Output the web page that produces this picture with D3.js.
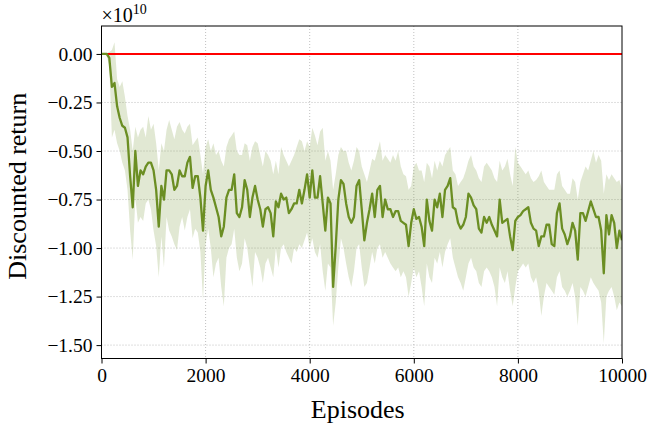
<!DOCTYPE html>
<html>
<head>
<meta charset="utf-8">
<script src="https://cdn.jsdelivr.net/npm/d3@7"></script>
<style>
  html, body { margin: 0; padding: 0; background: #fff; }
  svg { display: block; }
  text { font-family: "Liberation Serif", "DejaVu Serif", serif; fill: #000; }
</style>
</head>
<body>
<svg id="chart" width="650" height="426"></svg>
<script>
// ---- data (values in units of 1e10) ----
const STEP = 50;
const meanReturn = [
  0,0,0,-0.02,-0.17,-0.15,-0.27,-0.33,-0.37,-0.38,
  -0.43,-0.63,-0.79,-0.50,-0.68,-0.60,-0.62,-0.58,-0.56,-0.56,
  -0.60,-0.70,-0.89,-0.68,-0.75,-0.60,-0.60,-0.62,-0.70,-0.68,
  -0.60,-0.63,-0.63,-0.56,-0.53,
  -0.69,-0.63,-0.63,-0.74,-0.91,-0.68,-0.60,-0.70,-0.74,-0.79,
  -0.84,-0.94,-0.89,-0.74,-0.70,-0.70,-0.62,-0.82,-0.84,-0.79,
  -0.65,-0.70,-0.84,-0.74,-0.68,-0.75,-0.80,-0.89,-0.80,-0.79,
  -0.82,-0.94,-0.76,
  -0.79,-0.72,-0.75,-0.74,-0.82,-0.80,-0.77,-0.77,-0.70,-0.77,
  -0.70,-0.62,-0.74,-0.60,-0.74,-0.74,-0.63,-0.77,-0.91,-0.74,
  -0.77,-1.20,-0.99,-0.75,-0.65,-0.67,-0.77,-0.84,-0.87,-0.84,
  -0.68,-0.65,-0.80,-0.96,
  -0.87,-0.80,-0.72,-0.84,-0.70,-0.68,-0.84,-0.75,-0.80,-0.80,
  -0.84,-0.81,-0.81,-0.86,-0.87,-0.88,-0.99,-0.87,-0.80,-0.85,
  -0.84,-0.89,-0.99,-0.75,-0.86,-0.91,-0.75,-0.79,-0.72,-0.84,
  -0.70,-0.68,-0.64,
  -0.79,-0.80,-0.87,-0.90,-0.88,-0.84,-0.72,-0.74,-0.78,-0.80,
  -0.90,-0.92,-0.84,-0.87,-0.84,-0.88,-0.91,-0.94,-0.75,-0.87,
  -0.86,-0.85,-0.94,-1.01,-0.86,-0.84,-0.83,-0.81,-0.80,-0.79,
  -0.87,-0.90,-0.91,
  -0.99,-0.94,-0.94,-0.88,-0.88,-0.98,-0.99,-0.82,-0.77,-0.90,
  -0.93,-0.98,-0.94,-0.87,-0.91,-1.06,-0.82,-0.82,-0.86,-0.81,
  -0.76,-0.80,-0.84,-0.84,-0.91,-1.13,-0.83,-0.93,-0.83,-0.87,
  -1.00,-0.91,-0.96
];
const upperReturn = [
  0,0,0.005,0.01,0.02,0.06,-0.13,-0.17,-0.14,-0.22,
  -0.32,-0.39,-0.50,-0.375,-0.43,-0.39,-0.375,-0.43,-0.32,-0.39,
  -0.36,-0.46,-0.60,-0.46,-0.50,-0.39,-0.34,-0.39,-0.44,-0.375,
  -0.35,-0.39,-0.41,-0.375,-0.36,
  -0.47,-0.45,-0.43,-0.52,-0.62,-0.48,-0.44,-0.50,-0.46,-0.52,
  -0.50,-0.55,-0.58,-0.48,-0.44,-0.42,-0.40,-0.50,-0.52,-0.52,
  -0.46,-0.47,-0.55,-0.48,-0.45,-0.46,-0.52,-0.58,-0.50,-0.52,
  -0.55,-0.62,-0.55,
  -0.62,-0.48,-0.52,-0.55,-0.58,-0.55,-0.52,-0.48,-0.44,-0.45,
  -0.50,-0.45,-0.48,-0.38,-0.42,-0.47,-0.40,-0.38,-0.55,-0.50,
  -0.55,-0.70,-0.62,-0.52,-0.48,-0.50,-0.50,-0.56,-0.60,-0.55,
  -0.48,-0.50,-0.58,-0.62,
  -0.66,-0.60,-0.54,-0.55,-0.50,-0.45,-0.55,-0.52,-0.54,-0.56,
  -0.52,-0.55,-0.50,-0.58,-0.62,-0.63,-0.70,-0.68,-0.58,-0.56,
  -0.60,-0.60,-0.66,-0.56,-0.58,-0.64,-0.55,-0.60,-0.55,-0.58,
  -0.52,-0.50,-0.48,
  -0.60,-0.62,-0.68,-0.66,-0.64,-0.60,-0.55,-0.52,-0.58,-0.60,
  -0.64,-0.66,-0.58,-0.56,-0.58,-0.60,-0.64,-0.66,-0.55,-0.60,
  -0.58,-0.54,-0.62,-0.68,-0.48,-0.56,-0.58,-0.60,-0.62,-0.60,
  -0.64,-0.66,-0.65,
  -0.63,-0.60,-0.66,-0.68,-0.70,-0.70,-0.70,-0.62,-0.60,-0.68,
  -0.70,-0.72,-0.72,-0.64,-0.66,-0.75,-0.66,-0.62,-0.58,-0.60,
  -0.55,-0.50,-0.56,-0.52,-0.55,-0.72,-0.62,-0.65,-0.62,-0.64,
  -0.66,-0.65,-0.70
];
const lowerReturn = [
  0,0,-0.01,-0.06,-0.43,-0.39,-0.46,-0.50,-0.56,-0.60,
  -0.70,-0.91,-1.06,-0.74,-0.87,-0.84,-0.86,-0.77,-0.75,-0.80,
  -0.91,-0.99,-1.15,-0.94,-1.10,-0.84,-0.91,-0.94,-0.98,-1.01,
  -0.89,-0.84,-0.91,-0.84,-0.80,
  -0.95,-0.90,-0.92,-1.02,-1.27,-0.98,-0.90,-1.00,-1.15,-1.08,
  -1.05,-1.20,-1.30,-1.05,-1.00,-0.98,-0.90,-1.05,-1.12,-1.08,
  -0.95,-1.00,-1.10,-1.20,-1.02,-1.05,-1.10,-1.18,-1.08,-1.05,
  -1.10,-1.15,-1.00,
  -1.10,-1.00,-0.98,-1.02,-1.05,-1.08,-1.00,-1.02,-0.98,-1.00,
  -0.96,-0.92,-1.00,-0.95,-1.02,-1.05,-0.98,-1.12,-1.22,-1.08,
  -1.10,-1.40,-1.28,-1.10,-0.95,-1.00,-1.08,-1.15,-1.20,-1.12,
  -1.00,-0.98,-1.10,-1.20,
  -1.18,-1.10,-1.02,-1.08,-1.00,-0.98,-1.05,-1.02,-1.05,-1.08,
  -1.10,-1.12,-1.10,-1.15,-1.12,-1.15,-1.25,-1.18,-1.10,-1.15,
  -1.12,-1.20,-1.30,-1.08,-1.15,-1.18,-1.05,-1.08,-1.02,-1.10,
  -1.02,-0.98,-0.95,
  -1.05,-1.10,-1.15,-1.18,-1.22,-1.15,-1.08,-1.05,-1.10,-1.12,
  -1.18,-1.20,-1.12,-1.10,-1.12,-1.15,-1.20,-1.30,-1.10,-1.15,
  -1.18,-1.12,-1.22,-1.30,-1.20,-1.12,-1.10,-1.08,-1.10,-1.08,
  -1.15,-1.18,-1.15,
  -1.22,-1.35,-1.25,-1.18,-1.20,-1.22,-1.24,-1.15,-1.12,-1.20,
  -1.22,-1.25,-1.22,-1.18,-1.25,-1.40,-1.20,-1.22,-1.25,-1.20,
  -1.15,-1.18,-1.20,-1.22,-1.28,-1.49,-1.25,-1.22,-1.20,-1.25,
  -1.32,-1.28,-1.30
];
const episodes = meanReturn.map((_, i) => i * STEP);
const xTicks = [0, 2000, 4000, 6000, 8000, 10000];
const yTicks = [0, -0.25, -0.5, -0.75, -1.0, -1.25, -1.5];
const referenceLevel = 0;

// ---- layout ----
const L = 101.5, R = 622, T = 26, B = 358.5;
const svg = d3.select("#chart");

const x = d3.scaleLinear().domain([0, 10000]).range([L, R]);
const y = d3.scaleLinear().domain([-1.569, 0.144]).range([B, T]);

// grid
const grid = svg.append("g");
grid.selectAll("line.gx").data(xTicks.slice(1, -1)).enter().append("line")
  .attr("x1", d => x(d)).attr("x2", d => x(d)).attr("y1", T).attr("y2", B)
  .attr("stroke", "#b0b0b0").attr("stroke-width", 0.8).attr("stroke-dasharray", "1,2");
grid.selectAll("line.gy").data(yTicks).enter().append("line")
  .attr("x1", L).attr("x2", R).attr("y1", d => y(d)).attr("y2", d => y(d))
  .attr("stroke", "#b0b0b0").attr("stroke-width", 0.8).attr("stroke-dasharray", "1,2");

const plot = svg.append("g");
plot.append("clipPath").attr("id", "clip").append("rect")
  .attr("x", L).attr("y", T).attr("width", R - L).attr("height", B - T);
const pg = plot.append("g").attr("clip-path", "url(#clip)");

// band
const area = d3.area()
  .x((d, i) => x(episodes[i]))
  .y0((d, i) => y(lowerReturn[i]))
  .y1((d, i) => y(upperReturn[i]));
pg.append("path").datum(meanReturn).attr("d", area)
  .attr("fill", "#6b8e23").attr("fill-opacity", 0.2).attr("stroke", "none");

// reference line
pg.append("line").attr("x1", L).attr("x2", R)
  .attr("y1", y(referenceLevel)).attr("y2", y(referenceLevel))
  .attr("stroke", "#ff0000").attr("stroke-width", 2);

// mean line
const line = d3.line().x((d, i) => x(episodes[i])).y(d => y(d));
pg.append("path").datum(meanReturn).attr("d", line)
  .attr("fill", "none").attr("stroke", "#6b8e23").attr("stroke-width", 2.3)
  .attr("stroke-linejoin", "round");

// axes
const fmt = d => d3.format(".2f")(d).replace("-", "\u2212");
const yAxis = d3.axisLeft(y).tickValues(yTicks).tickFormat(fmt).tickSize(5).tickPadding(4);
const xAxis = d3.axisBottom(x).tickValues(xTicks).tickFormat(d3.format("d")).tickSize(5).tickPadding(5);

const gy = svg.append("g").attr("transform", `translate(${L},0)`).call(yAxis);
const gx = svg.append("g").attr("transform", `translate(0,${B})`).call(xAxis);
[gx, gy].forEach(g => {
  g.select(".domain").remove();
  g.selectAll(".tick line").attr("stroke", "#000").attr("stroke-width", 1);
  g.selectAll(".tick text").attr("font-size", 19.5)
    .style("font-family", '"Liberation Serif", serif').attr("fill", "#000");
});

// frame
svg.append("rect").attr("x", L).attr("y", T).attr("width", R - L).attr("height", B - T)
  .attr("fill", "none").attr("stroke", "#000").attr("stroke-width", 1);

// offset text
const off = svg.append("text").attr("x", L).attr("y", 22).attr("font-size", 20);
off.append("tspan").text("\u00d710");
off.append("tspan").attr("dy", -8).attr("font-size", 14).text("10");

// axis labels
svg.append("text").attr("x", (L + R) / 2 - 4).attr("y", 418).attr("text-anchor", "middle")
  .attr("font-size", 26).text("Episodes");
svg.append("text").attr("transform", `translate(26,${(T + B) / 2 - 6}) rotate(-90)`)
  .attr("text-anchor", "middle").attr("font-size", 26).text("Discounted return");
</script>
</body>
</html>
